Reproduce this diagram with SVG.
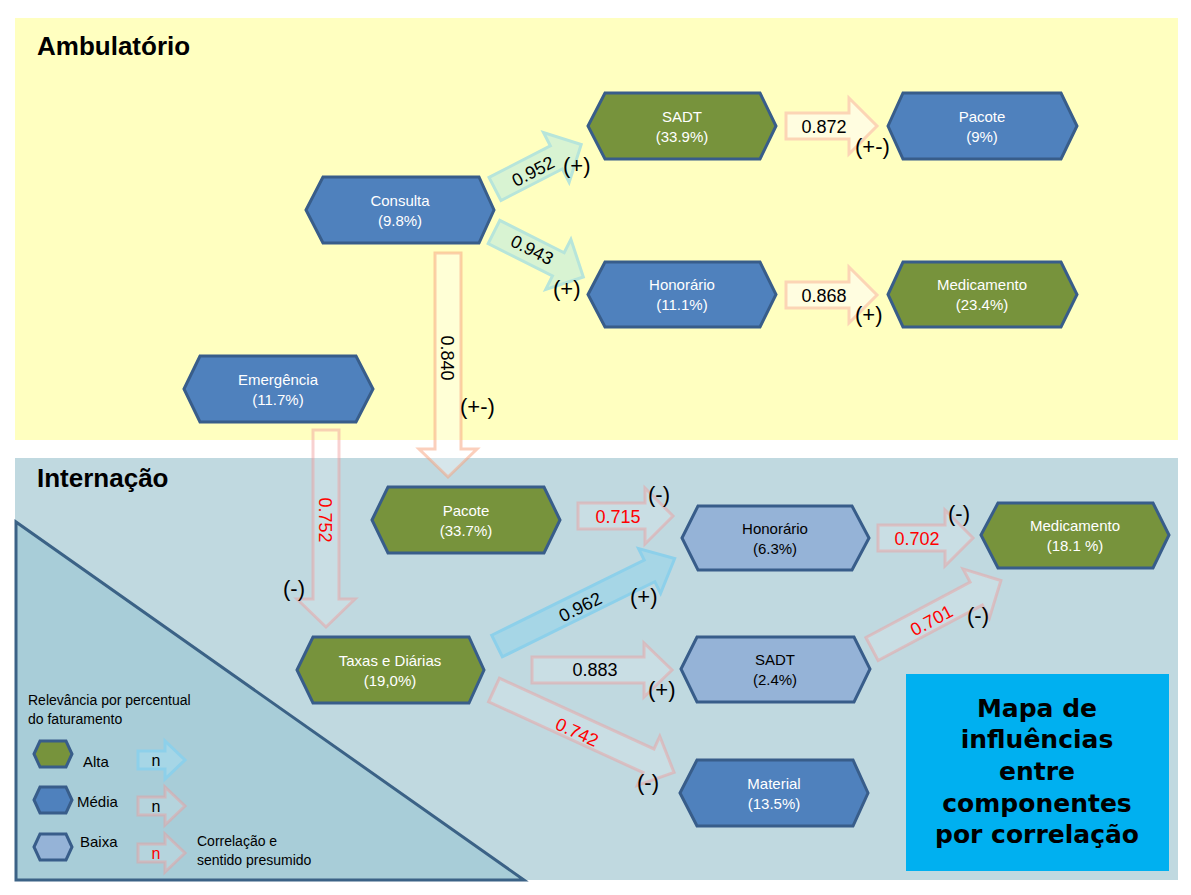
<svg xmlns="http://www.w3.org/2000/svg" width="1191" height="895" viewBox="0 0 1191 895">
<style>
.title{font-family:"Liberation Sans",Arial,sans-serif;font-size:26px;font-weight:bold;fill:#000}
.hex{stroke:#385D8A;stroke-width:3;stroke-linejoin:miter}
.g{fill:#77933C}.m{fill:#4F81BD}.l{fill:#95B3D7}
.nt{font-family:"Liberation Sans",Arial,sans-serif;font-size:15px;text-anchor:middle;fill:#fff}
.dk{fill:#000}
.lbl{font-family:"Liberation Sans",Arial,sans-serif;font-size:18px;text-anchor:middle;fill:#000}
.red{fill:#FF0000}
.sgn{font-family:"Liberation Sans",Arial,sans-serif;font-size:22px;fill:#000}
.arG{fill:#D8F3D2;stroke:#B7E5DA;stroke-width:3}
.arO{fill:#FFFDE0;stroke:#FCD5B5;stroke-width:3}
.arO2{fill:#fff;fill-opacity:.35;stroke:#F7A07A;stroke-opacity:.5;stroke-width:3}
.arP{fill:#fff;fill-opacity:.15;stroke:#F09A9A;stroke-opacity:.45;stroke-width:3}
.arB{fill:#A6D6E6;stroke:#8DD0EA;stroke-width:3}
.leg{font-family:"Liberation Sans",Arial,sans-serif;font-size:14px;fill:#000}
.leg15{font-family:"Liberation Sans",Arial,sans-serif;font-size:15px;fill:#000}
.nl{font-family:"Liberation Sans",Arial,sans-serif;font-size:16px;text-anchor:middle}
.mapa{font-family:"DejaVu Sans","Liberation Sans",sans-serif;font-size:25px;font-weight:bold;text-anchor:middle;fill:#000}
</style>

<g id="background">
<rect x="0" y="0" width="1191" height="895" fill="#fff"/>
<rect x="15" y="18" width="1163" height="422" fill="#FFFFC0"/>
<rect x="15" y="458" width="1163" height="422" fill="#C0D9E0"/>
<polygon points="16,522 16,880 524,880" fill="#A8CDD8" stroke="#3B6286" stroke-width="3"/>
<text class="title" x="37" y="55">Ambulatório</text>
<text class="title" x="37" y="487">Internação</text>
</g>

<g id="connectors">
<g transform="translate(495,189) rotate(-27.3)">
<path class="arG" d="M0,-13H69V-28L97,0L69,28V13H0Z"/>
<text class="lbl" x="42" y="8">0.952</text>
</g>
<text class="sgn" x="563" y="173">(+)</text>

<g transform="translate(494,232) rotate(26.7)">
<path class="arG" d="M0,-13H72V-28L100,0L72,28V13H0Z"/>
<text class="lbl" x="42" y="5">0.943</text>
</g>
<text class="sgn" x="553" y="296">(+)</text>

<g transform="translate(786,126)">
<path class="arO" d="M0,-13H63V-28L91,0L63,28V13H0Z"/>
<text class="lbl" x="38" y="7">0.872</text>
</g>
<text class="sgn" x="855" y="154">(+-)</text>

<g transform="translate(786,295)">
<path class="arO" d="M0,-13H63V-28L91,0L63,28V13H0Z"/>
<text class="lbl" x="38" y="7">0.868</text>
</g>
<text class="sgn" x="855" y="322">(+)</text>

<g transform="translate(448,253) rotate(90)">
<path class="arO2" d="M0,-13H196V-29L224,0L196,29V13H0Z"/>
<text class="lbl" x="105" y="7">0.840</text>
</g>
<text class="sgn" x="460" y="414">(+-)</text>

<g transform="translate(326,430) rotate(90)">
<path class="arP" d="M0,-13H169V-29L197,0L169,29V13H0Z"/>
<text class="lbl red" x="90" y="7">0.752</text>
</g>
<text class="sgn" x="283" y="596">(-)</text>

<g transform="translate(578,516)">
<path class="arP" d="M0,-13H67V-28L95,0L67,28V13H0Z"/>
<text class="lbl red" x="40" y="7">0.715</text>
</g>
<text class="sgn" x="648" y="502">(-)</text>

<g transform="translate(878,538)">
<path class="arP" d="M0,-13H67V-28L95,0L67,28V13H0Z"/>
<text class="lbl red" x="39" y="7">0.702</text>
</g>
<text class="sgn" x="948" y="521">(-)</text>

<g transform="translate(872,649) rotate(-28)">
<path class="arP" d="M0,-13H118V-28L146,0L118,28V13H0Z"/>
<text class="lbl red" x="66" y="9">0.701</text>
</g>
<text class="sgn" x="967" y="623">(-)</text>

<g transform="translate(497,646) rotate(-26.2)">
<path class="arB" d="M0,-12H170V-25L198,0L170,25V12H0Z"/>
<text class="lbl" x="92" y="8">0.962</text>
</g>
<text class="sgn" x="630" y="604">(+)</text>

<g transform="translate(532,670)">
<path class="arP" d="M0,-13H112V-27L140,0L112,27V13H0Z"/>
<text class="lbl" x="63" y="6">0.883</text>
</g>
<text class="sgn" x="648" y="697">(+)</text>

<g transform="translate(494,690) rotate(24.6)">
<path class="arP" d="M0,-13H170V-27L198,0L170,27V13H0Z"/>
<text class="lbl red" x="93" y="10">0.742</text>
</g>
<text class="sgn" x="637" y="790">(-)</text>
</g>

<g id="node-consulta">
<polygon class="hex m" points="306,210 323,177 479,177 494,210 479,243 323,243"/>
<text class="nt" x="400" y="206">Consulta</text><text class="nt" x="400" y="226">(9.8%)</text>
</g>
<g id="node-sadt-amb">
<polygon class="hex g" points="588,126 605,93 760,93 776,126 760,159 605,159"/>
<text class="nt" x="682" y="122">SADT</text><text class="nt" x="682" y="142">(33.9%)</text>
</g>
<g id="node-pacote-amb">
<polygon class="hex m" points="888,126 903,93 1061,93 1077,126 1061,159 903,159"/>
<text class="nt" x="982" y="122">Pacote</text><text class="nt" x="982" y="142">(9%)</text>
</g>
<g id="node-honorario-amb">
<polygon class="hex m" points="588,294.5 605,262 760,262 776,294.5 760,327 605,327"/>
<text class="nt" x="682" y="290">Honorário</text><text class="nt" x="682" y="310">(11.1%)</text>
</g>
<g id="node-medicamento-amb">
<polygon class="hex g" points="888,294.5 903,262 1061,262 1077,294.5 1061,327 903,327"/>
<text class="nt" x="982" y="290">Medicamento</text><text class="nt" x="982" y="310">(23.4%)</text>
</g>
<g id="node-emergencia">
<polygon class="hex m" points="184,389 200,356 356,356 373,389 356,422 200,422"/>
<text class="nt" x="278" y="385">Emergência</text><text class="nt" x="278" y="405">(11.7%)</text>
</g>
<g id="node-pacote-int">
<polygon class="hex g" points="372,520 388,487 544,487 560,520 544,553 388,553"/>
<text class="nt" x="466" y="516">Pacote</text><text class="nt" x="466" y="536">(33.7%)</text>
</g>
<g id="node-honorario-int">
<polygon class="hex l" points="682,538 698,506 852,506 869,538 852,570 698,570"/>
<text class="nt dk" x="775" y="534">Honorário</text><text class="nt dk" x="775" y="554">(6.3%)</text>
</g>
<g id="node-medicamento-int">
<polygon class="hex g" points="981,535 998,503 1153,503 1169,535 1153,568 998,568"/>
<text class="nt" x="1075" y="531">Medicamento</text><text class="nt" x="1075" y="551">(18.1 %)</text>
</g>
<g id="node-taxas">
<polygon class="hex g" points="297,670 313,637 469,637 484,670 469,703 313,703"/>
<text class="nt" x="390" y="666">Taxas e Diárias</text><text class="nt" x="390" y="686">(19,0%)</text>
</g>
<g id="node-sadt-int">
<polygon class="hex l" points="681,669 697,637 854,637 870,669 854,702 697,702"/>
<text class="nt dk" x="775" y="665">SADT</text><text class="nt dk" x="775" y="685">(2.4%)</text>
</g>
<g id="node-material">
<polygon class="hex m" points="680,793 697,760 853,760 868,793 853,826 697,826"/>
<text class="nt" x="774" y="789">Material</text><text class="nt" x="774" y="809">(13.5%)</text>
</g>

<g id="node-mapa">
<rect x="906" y="674" width="263" height="197" fill="#00B0F0"/>
<text class="mapa" x="1037" y="717">Mapa de</text>
<text class="mapa" x="1037" y="748">influências</text>
<text class="mapa" x="1037" y="780">entre</text>
<text class="mapa" x="1037" y="812">componentes</text>
<text class="mapa" x="1037" y="843">por correlação</text>
</g>

<g id="legend">
<text class="leg" x="28" y="705">Relevância por percentual</text>
<text class="leg" x="28" y="724">do faturamento</text>
<polygon class="hex g" points="34,754 40,741 66,741 72,754 66,767 40,767"/>
<text class="leg15" x="83" y="767">Alta</text>
<polygon class="hex m" points="34,800 40,787 66,787 72,800 66,813 40,813"/>
<text class="leg15" x="77" y="807">Média</text>
<polygon class="hex l" points="34,847 40,834 66,834 72,847 66,860 40,860"/>
<text class="leg15" x="80" y="847">Baixa</text>
<g transform="translate(138,760)">
<path class="arB" d="M0,-9H27V-19L47,0L27,19V9H0Z"/>
<text class="nl" x="18" y="6">n</text>
</g>
<g transform="translate(138,806)">
<path class="arP" d="M0,-9H27V-19L47,0L27,19V9H0Z"/>
<text class="nl" x="18" y="6">n</text>
</g>
<g transform="translate(138,853)">
<path class="arP" d="M0,-9H27V-19L47,0L27,19V9H0Z"/>
<text class="nl red" x="18" y="6">n</text>
</g>
<text class="leg" x="197" y="846">Correlação e</text>
<text class="leg" x="197" y="865">sentido presumido</text>
</g>
</svg>
